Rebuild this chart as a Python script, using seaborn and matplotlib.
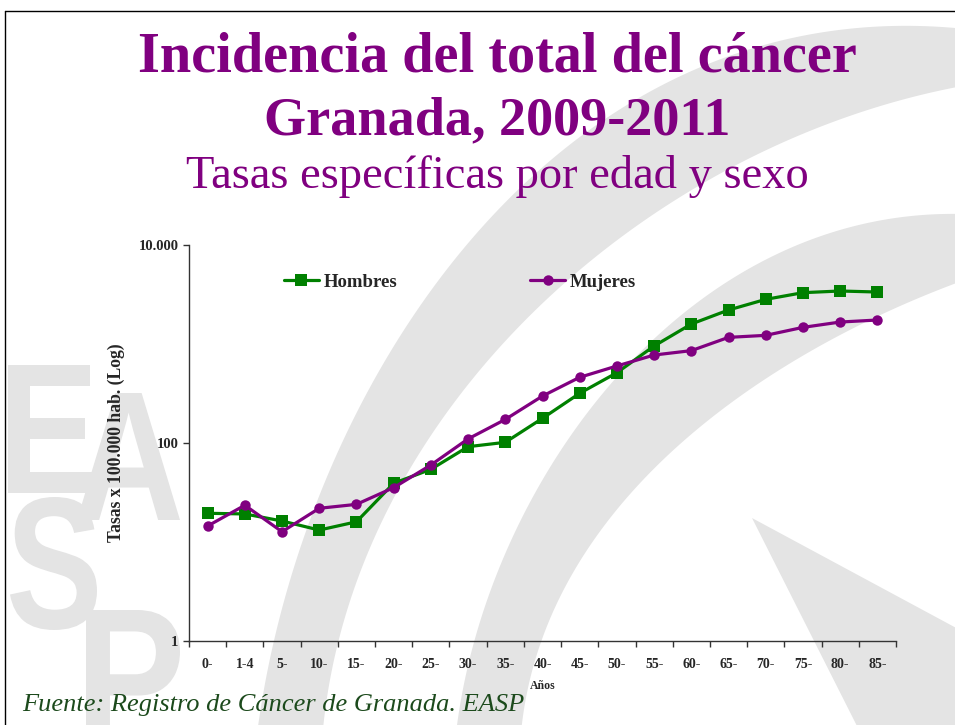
import numpy as np
import pandas as pd
import matplotlib
matplotlib.use("Agg")
import matplotlib.pyplot as plt
import seaborn as sns
from matplotlib.textpath import TextPath
from matplotlib.font_manager import FontProperties
from matplotlib.patches import PathPatch, Polygon
from matplotlib.lines import Line2D
import matplotlib.transforms as mtransforms
from matplotlib.ticker import NullLocator, FixedLocator

# ---------------- data ----------------
edades = ['0-', '1-4', '5-', '10-', '15-', '20-', '25-', '30-', '35-', '40-',
          '45-', '50-', '55-', '60-', '65-', '70-', '75-', '80-', '85-']
hombres = [19.5, 19.2, 16.3, 13.2, 16.0, 39.2, 54.2, 91.8, 101.6, 177.6,
           318, 513, 955, 1592, 2205, 2825, 3300, 3430, 3350]
mujeres = [14.5, 23.5, 12.7, 21.9, 24.0, 35.4, 59.9, 110, 173, 298,
           461, 600, 774, 857, 1167, 1223, 1472, 1667, 1747]
series_names = ['Hombres', 'Mujeres']
ytick_vals = [1, 100, 10000]
ytick_labels = ['1', '100', '10.000']

titulo1 = 'Incidencia del total del cáncer'
titulo2 = 'Granada, 2009-2011'
subtitulo = 'Tasas específicas por edad y sexo'
fuente = 'Fuente: Registro de Cáncer de Granada. EASP'
ylabel = 'Tasas x 100.000 hab. (Log)'
xlabel = 'Años'

df = pd.DataFrame({
    'pos': list(range(len(edades))) * 2,
    'tasa': hombres + mujeres,
    'sexo': [series_names[0]] * len(edades) + [series_names[1]] * len(edades),
})

# ---------------- style ----------------
sns.set_style('ticks')
plt.rcParams['font.family'] = ['Liberation Serif', 'DejaVu Serif']

W, H = 955, 725
fig = plt.figure(figsize=(W / 100, H / 100), dpi=100)
fig.patch.set_facecolor('white')

# ---------------- watermark background ----------------
bg = fig.add_axes([0, 0, 1, 1], zorder=0)
bg.set_xlim(0, W)
bg.set_ylim(H, 0)
bg.axis('off')
GRAY = '#e4e4e4'


def smooth(pts, n=200, deg=3):
    pts = np.asarray(pts, float)
    d = np.r_[0, np.cumsum(np.hypot(*np.diff(pts, axis=0).T))]
    t = d / d[-1]
    tt = np.linspace(0, 1, n)
    cx = np.polyfit(t, pts[:, 0], deg)
    cy = np.polyfit(t, pts[:, 1], deg)
    return np.column_stack([np.polyval(cx, tt), np.polyval(cy, tt)])


A_out = [(960, 26), (833, 37), (733, 57), (633, 95), (473, 230), (423, 297),
         (357, 430), (323, 497), (293, 563), (273, 630), (258, 730)]
A_in = [(960, 87), (800, 133), (700, 187), (627, 230), (550, 297), (490, 363),
        (437, 430), (393, 497), (360, 563), (340, 630), (325, 730)]
B_out = [(960, 215), (800, 240), (700, 303), (617, 380), (550, 463),
         (503, 563), (467, 663), (457, 730)]
B_in = [(960, 282), (920, 297), (733, 400), (700, 430), (617, 507),
        (570, 580), (533, 663), (522, 730)]
for o, i in [(A_out, A_in), (B_out, B_in)]:
    poly = np.vstack([smooth(o), smooth(i)[::-1]])
    bg.add_patch(Polygon(poly, closed=True, facecolor=GRAY, edgecolor='none'))
bg.add_patch(Polygon([(752, 518), (960, 630), (960, 730), (859, 730)],
                     closed=True, facecolor=GRAY, edgecolor='none'))

letter_boxes = {'E': (8, 365, 93, 493), 'A': (77, 393, 180, 520),
                'S': (10, 497, 97, 630), 'P': (86, 610, 180, 742)}
fp = FontProperties(family='Liberation Sans', weight='bold')
for ch, (x0, y0, x1, y1) in letter_boxes.items():
    tp = TextPath((0, 0), ch, size=1, prop=fp)
    ext = tp.get_extents()
    sx = (x1 - x0) / ext.width
    sy = (y1 - y0) / ext.height
    tr = (mtransforms.Affine2D().translate(-ext.x0, -ext.y0).scale(sx, -sy)
          .translate(x0, y1))
    bg.add_patch(PathPatch(tr.transform_path(tp), facecolor=GRAY,
                           edgecolor='none'))

# slide frame
bg.add_line(Line2D([5, W], [11, 11], color='black', lw=1.0))
bg.add_line(Line2D([5, 5], [11, H], color='black', lw=1.0))

# ---------------- main chart ----------------
L, R, T, B = 189, 896, 245, 641
ax = fig.add_axes([L / W, 1 - B / H, (R - L) / W, (B - T) / H], zorder=2)
ax.set_facecolor('none')

sns.lineplot(data=df, x='pos', y='tasa', hue='sexo', style='sexo',
             palette={'Hombres': '#008000', 'Mujeres': '#800080'},
             markers={'Hombres': 's', 'Mujeres': 'o'}, dashes=False,
             linewidth=2.3, markersize=9, markeredgewidth=0, ax=ax)
for ln in ax.get_lines():
    if ln.get_marker() == 'o':
        ln.set_markersize(7.5)

ax.set_yscale('log')
ax.set_ylim(1, 10000)
ax.set_xlim(-0.5, len(edades) - 0.5)
ax.yaxis.set_major_locator(FixedLocator(ytick_vals))
ax.set_yticklabels(ytick_labels)
ax.yaxis.set_minor_locator(NullLocator())
ax.set_xticks(range(len(edades)))
ax.set_xticklabels(edades)
ax.xaxis.set_minor_locator(FixedLocator(np.arange(-0.5, len(edades), 1.0)))

for s in ['top', 'right']:
    ax.spines[s].set_visible(False)
for s in ['left', 'bottom']:
    ax.spines[s].set_color('#333333')
    ax.spines[s].set_linewidth(1.0)

ax.tick_params(axis='x', which='major', length=0, pad=12, labelsize=10)
ax.tick_params(axis='x', which='minor', length=4, width=1.0, color='#333333',
               direction='out')
ax.tick_params(axis='y', which='major', length=4.5, width=1.0, color='#333333',
               direction='out', pad=3, labelsize=10.5)
for lbl in ax.get_xticklabels() + ax.get_yticklabels():
    lbl.set_fontweight('bold')

ax.set_xlabel(xlabel, fontsize=8.5, fontweight='bold', labelpad=6.5)
ax.set_ylabel(ylabel, fontsize=12.7, fontweight='bold', labelpad=10)

handles, labels = ax.get_legend_handles_labels()
ax.legend(handles, labels, ncol=2, frameon=False, loc='center left',
          bbox_to_anchor=(284 / W, 1 - 282 / H), bbox_transform=fig.transFigure,
          prop={'weight': 'bold', 'size': 13.5}, handlelength=1.85,
          handletextpad=0.25, columnspacing=7.1, borderpad=0, borderaxespad=0)

# ---------------- titles ----------------
PURPLE = '#800080'
fig.text(497 / W, 1 - 72 / H, titulo1, ha='center', va='baseline',
         fontsize=40.5, fontweight='bold', color=PURPLE)
fig.text(497 / W, 1 - 134 / H, titulo2, ha='center', va='baseline',
         fontsize=39, fontweight='bold', color=PURPLE)
fig.text(497 / W, 1 - 188 / H, subtitulo, ha='center', va='baseline',
         fontsize=33.5, color=PURPLE)
fig.text(22 / W, 1 - 711 / H, fuente, ha='left', va='baseline',
         fontsize=19, style='italic', color='#1c4a1c')

fig.savefig('out.png', dpi=100, facecolor='white')
